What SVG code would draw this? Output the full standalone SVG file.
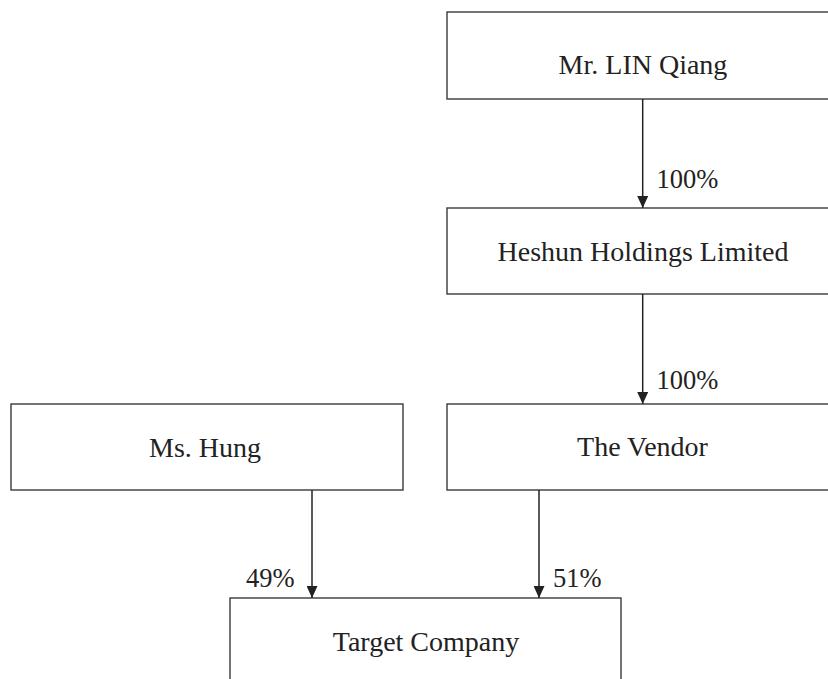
<svg xmlns="http://www.w3.org/2000/svg" width="828" height="679" viewBox="0 0 828 679">
<style>
.box{fill:#fff;stroke:#3a3a3a;stroke-width:1.4}
.lbl{font-family:"Liberation Serif","Times New Roman",serif;font-size:28px;fill:#222;text-anchor:middle}
.pct{font-family:"Liberation Serif","Times New Roman",serif;font-size:26.5px;fill:#222}
.edge{stroke:#222;stroke-width:1.5;fill:none}
</style>
<defs>
<marker id="ah" viewBox="0 0 12 11" refX="12" refY="5.5" markerWidth="12" markerHeight="11" markerUnits="userSpaceOnUse" orient="auto">
<path d="M0,0 L12,5.5 L0,11 Z" fill="#222"/>
</marker>
</defs>
<rect width="828" height="679" fill="#fff"/>
<g id="lin">
<rect class="box" x="447" y="12" width="390" height="87"/>
<text class="lbl" x="643" y="74">Mr. LIN Qiang</text>
</g>
<g id="heshun">
<rect class="box" x="447" y="208" width="390" height="86"/>
<text class="lbl" x="643" y="261">Heshun Holdings Limited</text>
</g>
<g id="hung">
<rect class="box" x="11" y="404" width="392" height="86"/>
<text class="lbl" x="205" y="457">Ms. Hung</text>
</g>
<g id="vendor">
<rect class="box" x="447" y="404" width="390" height="86"/>
<text class="lbl" x="642.5" y="456">The Vendor</text>
</g>
<g id="target">
<rect class="box" x="230" y="598" width="391" height="100"/>
<text class="lbl" x="426" y="651">Target Company</text>
</g>
<g id="connectors">
<line class="edge" x1="642.7" y1="99" x2="642.7" y2="208" marker-end="url(#ah)"/>
<line class="edge" x1="642.7" y1="294" x2="642.7" y2="404" marker-end="url(#ah)"/>
<line class="edge" x1="312" y1="490" x2="312" y2="598" marker-end="url(#ah)"/>
<line class="edge" x1="539" y1="490" x2="539" y2="598" marker-end="url(#ah)"/>
<text class="pct" x="656.5" y="188">100%</text>
<text class="pct" x="656.5" y="389">100%</text>
<text class="pct" x="246" y="587">49%</text>
<text class="pct" x="553" y="587">51%</text>
</g>
</svg>
